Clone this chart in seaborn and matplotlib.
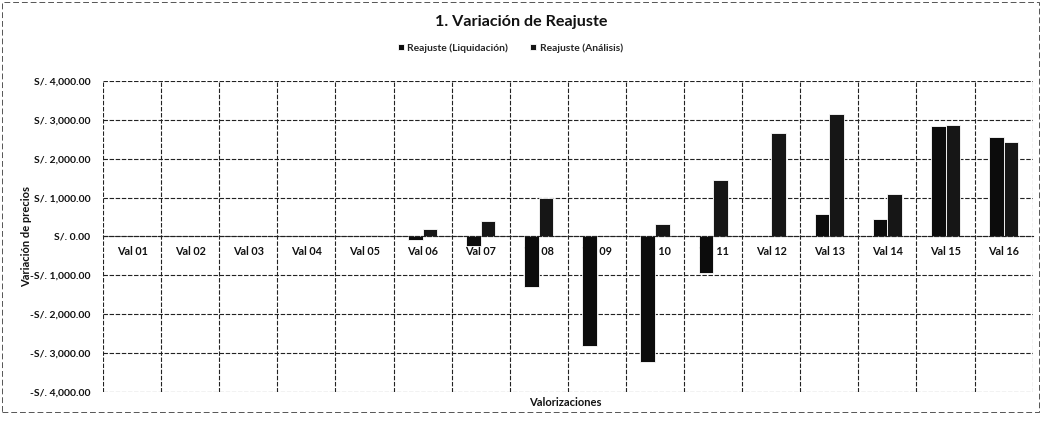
import matplotlib
matplotlib.use("Agg")
import matplotlib.pyplot as plt
import matplotlib.ticker as mticker
from matplotlib.patches import Rectangle
import numpy as np
import pandas as pd
import seaborn as sns

# Valorizaciones y reajustes (S/.)
categorias = ["Val 01", "Val 02", "Val 03", "Val 04", "Val 05", "Val 06", "Val 07", "Val 08",
              "Val 09", "Val 10", "Val 11", "Val 12", "Val 13", "Val 14", "Val 15", "Val 16"]
reajuste_liquidacion = [0, 0, 0, 0, 0, -90, -250, -1310, -2810, -3220, -950, 0, 580, 460, 2830, 2550]
reajuste_analisis = [0, 0, 0, 0, 30, 200, 390, 980, 0, 330, 1450, 2660, 3140, 1100, 2870, 2420]
series = ["Reajuste (Liquidación)", "Reajuste (Análisis)"]
y_ticks = [-4000, -3000, -2000, -1000, 0, 1000, 2000, 3000, 4000]

df = pd.DataFrame({
    "Valorización": categorias * 2,
    "Serie": [series[0]] * len(categorias) + [series[1]] * len(categorias),
    "Reajuste": reajuste_liquidacion + reajuste_analisis,
})

sns.set_theme(style="white")
plt.rcParams["font.family"] = ["Lato", "DejaVu Sans"]

fig = plt.figure(figsize=(10.41, 4.23), dpi=100)
ax = fig.add_axes([0.099, 0.0733, 0.893, 0.7352])

sns.barplot(data=df, x="Valorización", y="Reajuste", hue="Serie", order=categorias,
            hue_order=series, palette=["#0c0c0c", "#161616"], width=0.5,
            edgecolor="white", linewidth=0.6, errorbar=None, ax=ax, zorder=2)

dash = (0, (4, 1.5))
grid_kw = dict(color="#222222", linewidth=0.8, linestyle=dash)

ax.set_ylim(-4000, 4000)
ax.set_xlim(-0.5, len(categorias) - 0.5)
ax.yaxis.set_major_locator(mticker.FixedLocator(y_ticks))


def soles(v, _pos):
    s = f"S/. {abs(v):,.2f}"
    return "-" + s if v < 0 else s


ax.yaxis.set_major_formatter(mticker.FuncFormatter(soles))
ax.xaxis.set_minor_locator(mticker.FixedLocator(np.arange(-0.5, len(categorias), 1.0)))
ax.set_axisbelow(True)
ax.grid(True, axis="y", which="major", **grid_kw)
ax.grid(True, axis="x", which="minor", **grid_kw)
ax.grid(False, axis="x", which="major")

for side in ["top", "left", "right"]:
    ax.spines[side].set_visible(False)
ax.spines["bottom"].set_position(("data", 0))
ax.spines["bottom"].set_color("#222222")
ax.spines["bottom"].set_linewidth(0.8)
ax.spines["bottom"].set_linestyle(dash)

ax.tick_params(axis="x", which="both", length=0, pad=7)
ax.tick_params(axis="y", which="both", length=0, pad=9)
for lbl in ax.get_xticklabels():
    lbl.set_fontsize(7.8)
    lbl.set_fontweight("bold")
    lbl.set_color("#111111")
for lbl in ax.get_yticklabels():
    lbl.set_fontsize(7.5)
    lbl.set_fontweight("bold")
    lbl.set_color("#111111")

ax.set_xlabel("")
ax.set_ylabel("Variación de precios", fontsize=8, fontweight="bold", color="#111111")
ax.yaxis.set_label_coords(-0.076, 0.5)
fig.text(0.543, 0.048, "Valorizaciones", ha="center", va="center", fontsize=8,
         fontweight="bold", color="#111111")

fig.text(0.501, 0.948, "1. Variación de Reajuste", ha="center", va="center", fontsize=11.6,
         fontweight="bold", color="#111111")

handles, labels = ax.get_legend_handles_labels()
ax.legend(handles, labels, loc="center", bbox_to_anchor=(0.490, 0.887),
          bbox_transform=fig.transFigure, ncol=2, frameon=False,
          handlelength=0.6, handleheight=0.6, handletextpad=0.3, columnspacing=2.2,
          prop={"weight": "bold", "size": 7.4})

# Borde punteado del gráfico
fig.patches.append(Rectangle((0.002, 0.025), 0.996, 0.97, transform=fig.transFigure,
                             fill=False, edgecolor="#555555", linewidth=0.7,
                             linestyle=(0, (6, 3))))

fig.savefig("out.png", dpi=100)
